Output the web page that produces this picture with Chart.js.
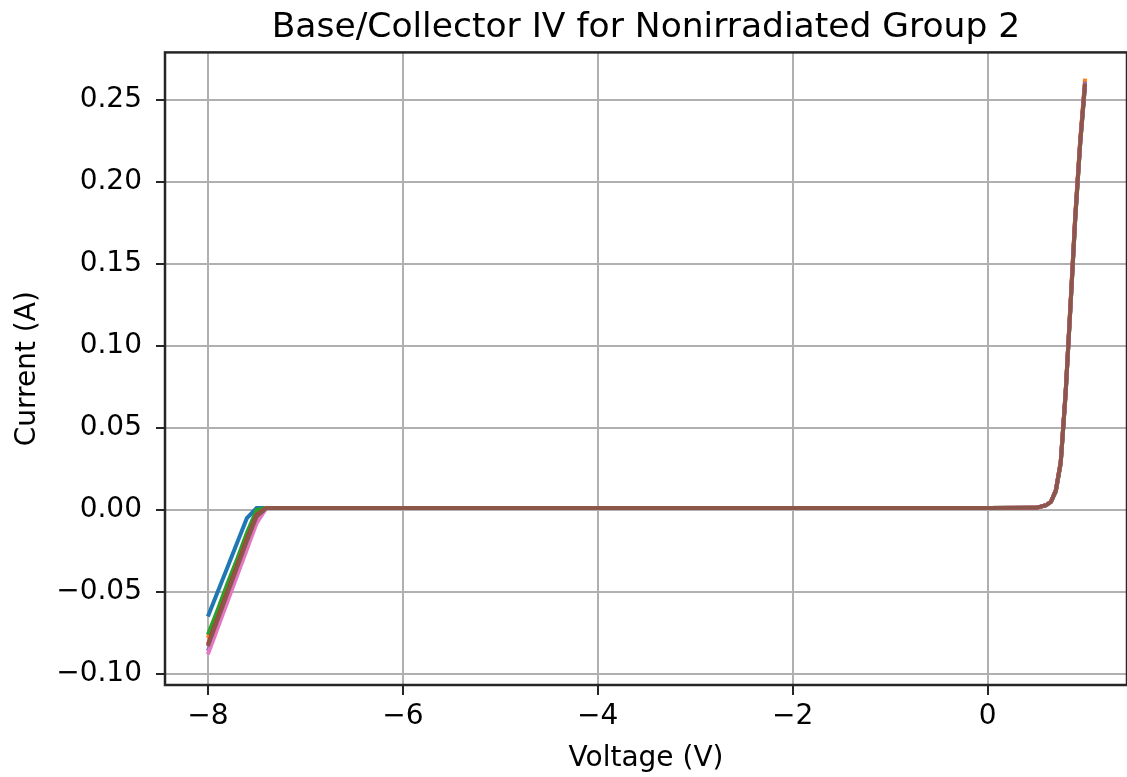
<!DOCTYPE html>
<html>
<head>
<meta charset="utf-8">
<script src="https://cdn.jsdelivr.net/npm/chart.js@4/dist/chart.umd.min.js"></script>
<style>
  html, body { margin: 0; padding: 0; background: #fff; }
  #wrap { width: 1127px; height: 777px; position: relative; }
</style>
</head>
<body>
<div id="wrap"><canvas id="ivChart"></canvas></div>
<script>
// sweep voltages (V)
var voltages = [-8.0, -7.9, -7.8, -7.7, -7.6, -7.5, -7.4, -7.0, -6.0, -5.0, -4.0, -3.0, -2.0, -1.0,
    0.0, 0.5, 0.6, 0.65, 0.7, 0.75, 0.8, 0.85, 0.9, 0.95, 1.0];

// currents (A) per device
var dev1 = [-0.065, -0.050, -0.035, -0.020, -0.005, 0.0012, 0.0012, 0.0012, 0.0012, 0.0012, 0.0012, 0.0012, 0.0012, 0.0012,
    0.0012, 0.0013, 0.003, 0.005, 0.012, 0.029, 0.071, 0.124, 0.179, 0.224, 0.260];
var dev2 = [-0.078, -0.063, -0.047, -0.031, -0.016, -0.001, 0.0012, 0.0012, 0.0012, 0.0012, 0.0012, 0.0012, 0.0012, 0.0012,
    0.0012, 0.0013, 0.003, 0.005, 0.012, 0.030, 0.072, 0.126, 0.181, 0.226, 0.263];
var dev3 = [-0.076, -0.061, -0.045, -0.030, -0.014, 0.000, 0.0012, 0.0012, 0.0012, 0.0012, 0.0012, 0.0012, 0.0012, 0.0012,
    0.0012, 0.0013, 0.003, 0.005, 0.011, 0.028, 0.070, 0.123, 0.178, 0.223, 0.259];
var dev4 = [-0.082, -0.066, -0.050, -0.034, -0.018, -0.003, 0.0012, 0.0012, 0.0012, 0.0012, 0.0012, 0.0012, 0.0012, 0.0012,
    0.0012, 0.0013, 0.003, 0.005, 0.012, 0.029, 0.071, 0.125, 0.180, 0.225, 0.261];
var dev5 = [-0.086, -0.070, -0.054, -0.038, -0.022, -0.006, 0.0012, 0.0012, 0.0012, 0.0012, 0.0012, 0.0012, 0.0012, 0.0012,
    0.0012, 0.0013, 0.003, 0.005, 0.012, 0.029, 0.071, 0.124, 0.179, 0.224, 0.261];
var dev6 = [-0.088, -0.072, -0.056, -0.040, -0.024, -0.008, 0.0012, 0.0012, 0.0012, 0.0012, 0.0012, 0.0012, 0.0012, 0.0012,
    0.0012, 0.0013, 0.003, 0.005, 0.012, 0.029, 0.071, 0.124, 0.179, 0.224, 0.260];
var dev7 = [-0.083, -0.067, -0.051, -0.035, -0.019, -0.004, 0.0012, 0.0012, 0.0012, 0.0012, 0.0012, 0.0012, 0.0012, 0.0012,
    0.0012, 0.0013, 0.003, 0.005, 0.012, 0.029, 0.071, 0.124, 0.179, 0.224, 0.260];

var seriesList = [dev1, dev2, dev3, dev4, dev5, dev6, dev7];
var seriesColors = ['#1f77b4', '#ff7f0e', '#2ca02c', '#d62728', '#9467bd', '#e377c2', '#8c564b'];

var xTicks = [-8, -6, -4, -2, 0];
var yTicks = [-0.10, -0.05, 0.00, 0.05, 0.10, 0.15, 0.20, 0.25];

var font = 'DejaVu Sans';

function minusSign(s) {
    return s.replace('-', '\u2212');
}

var datasets = [];
for (var i = 0; i < seriesList.length; i++) {
    var pts = [];
    for (var j = 0; j < voltages.length; j++) {
        pts.push({x: voltages[j], y: seriesList[i][j]});
    }
    datasets.push({
        label: 'device ' + (i + 1),
        data: pts,
        borderColor: seriesColors[i],
        backgroundColor: seriesColors[i],
        borderWidth: 4,
        pointRadius: 0,
        tension: 0,
        fill: false,
        order: seriesList.length - i   // later series on top, like matplotlib
    });
}

// full box around the plot area
var boxPlugin = {
    id: 'box',
    afterDraw: function(chart) {
        var a = chart.chartArea;
        var c = chart.ctx;
        c.save();
        c.strokeStyle = '#262626';
        c.lineWidth = 2.5;
        c.strokeRect(a.left, a.top, a.right - a.left, a.bottom - a.top);
        c.restore();
    }
};

new Chart(document.getElementById('ivChart').getContext('2d'), {
    type: 'line',
    data: {datasets: datasets},
    plugins: [boxPlugin],
    options: {
        responsive: true,
        maintainAspectRatio: false,
        animation: false,
        layout: {padding: {left: 0, right: 0, top: 0, bottom: 0}},
        plugins: {
            legend: {display: false},
            tooltip: {enabled: false},
            title: {
                display: true,
                fullSize: false,
                text: 'Base/Collector IV for Nonirradiated Group 2',
                color: '#000',
                font: {family: font, size: 34.5, weight: 'normal'},
                padding: {top: 7, bottom: 4}
            }
        },
        scales: {
            x: {
                type: 'linear',
                min: -8.44,
                max: 1.43,
                afterBuildTicks: function(scale) {
                    scale.ticks = xTicks.map(function(v) { return {value: v}; });
                },
                afterFit: function(scale) { scale.height = 92; },
                ticks: {
                    color: '#000',
                    font: {family: font, size: 28},
                    padding: 5,
                    maxRotation: 0,
                    callback: function(v) { return minusSign(String(v)); }
                },
                grid: {
                    color: '#b0b0b0',
                    lineWidth: 2,
                    tickColor: '#262626',
                    tickLength: 10,
                    tickWidth: 2
                },
                border: {display: false},
                title: {
                    display: true,
                    text: 'Voltage (V)',
                    color: '#000',
                    font: {family: font, size: 28},
                    padding: {top: 0, bottom: 1}
                }
            },
            y: {
                type: 'linear',
                min: -0.1067,
                max: 0.279,
                afterBuildTicks: function(scale) {
                    scale.ticks = yTicks.map(function(v) { return {value: v}; });
                },
                afterFit: function(scale) { scale.width = 165; },
                ticks: {
                    color: '#000',
                    font: {family: font, size: 28},
                    padding: 14,
                    callback: function(v) { return minusSign(v.toFixed(2)); }
                },
                grid: {
                    color: '#b0b0b0',
                    lineWidth: 2,
                    tickColor: '#262626',
                    tickLength: 9,
                    tickWidth: 2
                },
                border: {display: false},
                title: {
                    display: true,
                    text: 'Current (A)',
                    color: '#000',
                    font: {family: font, size: 28},
                    padding: {top: 11, bottom: 0}
                }
            }
        }
    }
});
</script>
</body>
</html>
